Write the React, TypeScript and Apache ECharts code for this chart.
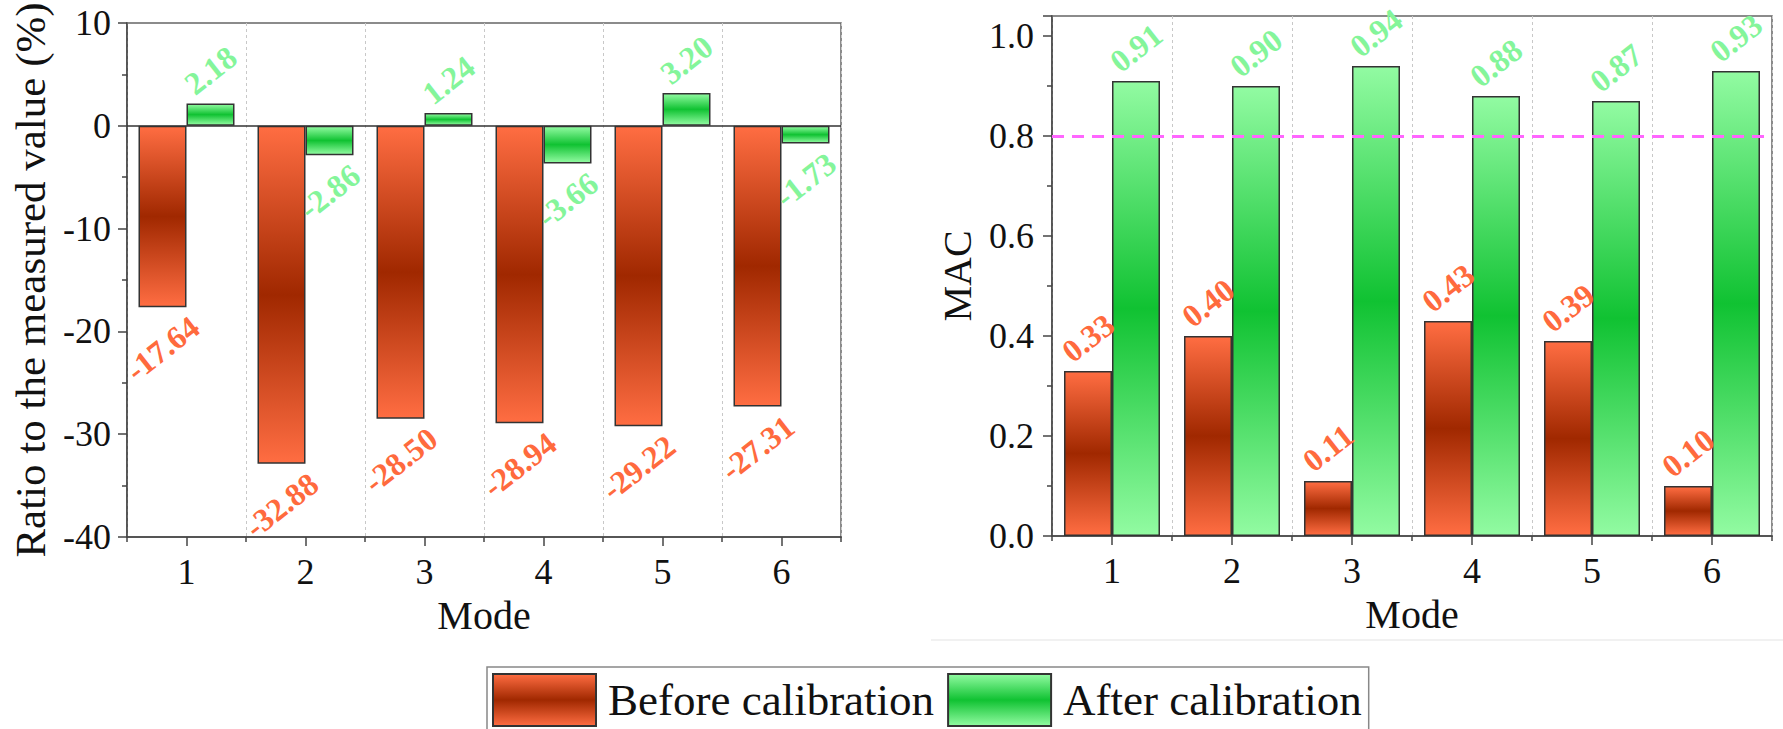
import React, { useEffect, useRef } from "react";
import * as echarts from "echarts";

const categories = ["1", "2", "3", "4", "5", "6"];
const ratioBefore = [-17.64, -32.88, -28.5, -28.94, -29.22, -27.31];
const ratioAfter = [2.18, -2.86, 1.24, -3.66, 3.2, -1.73];
const macBefore = [0.33, 0.4, 0.11, 0.43, 0.39, 0.1];
const macAfter = [0.91, 0.9, 0.94, 0.88, 0.87, 0.93];
const ratioAxis = { min: -40, max: 10, interval: 10 };
const macAxis = { min: 0, max: 1.04, interval: 0.2 };
const macThreshold = 0.8;
const seriesNames = ["Before calibration", "After calibration"];

const FONT = "Liberation Serif";
const LABEL_FS = 32;
const ROT = 38;
const GAP = 7;

const orangeGrad = {
  type: "linear", x: 0, y: 0, x2: 0, y2: 1,
  colorStops: [
    { offset: 0, color: "#ff6d42" },
    { offset: 0.5, color: "#a02800" },
    { offset: 1, color: "#ff6d42" },
  ],
};
const greenGrad = {
  type: "linear", x: 0, y: 0, x2: 0, y2: 1,
  colorStops: [
    { offset: 0, color: "#92fba2" },
    { offset: 0.5, color: "#10c232" },
    { offset: 1, color: "#92fba2" },
  ],
};
const orangeLabel = "#ff6a3d";
const greenLabel = "#84f59a";

function textWidth(t: string) {
  let w = 0;
  for (const c of t) w += c === "." ? 0.25 : c === "-" ? 0.333 : 0.5;
  return w * LABEL_FS;
}

function labelFor(v: number, digits: number, color: string) {
  const text = v.toFixed(digits);
  const th = (ROT * Math.PI) / 180;
  const half = (textWidth(text) * Math.sin(th) + 0.7 * LABEL_FS * Math.cos(th)) / 2;
  return {
    show: true,
    position: v < 0 ? "bottom" : "top",
    distance: GAP + half,
    rotate: ROT,
    align: "center",
    verticalAlign: "middle",
    formatter: text,
    color,
    fontSize: LABEL_FS,
    fontWeight: "bold",
    fontFamily: FONT,
  };
}

const axisLineStyle = { color: "#444", width: 1.5 };

function mainX(gridIndex: number) {
  return {
    type: "category",
    gridIndex,
    data: categories,
    position: "bottom",
    name: "Mode",
    nameLocation: "middle",
    nameGap: 58,
    nameTextStyle: { fontSize: 40, color: "#111", fontFamily: FONT },
    axisLine: { show: true, onZero: false, lineStyle: axisLineStyle },
    axisTick: { show: true, alignWithLabel: true, length: 9, lineStyle: axisLineStyle },
    axisLabel: { fontSize: 36, color: "#111", fontFamily: FONT, margin: 17 },
    splitLine: { show: false },
  };
}
function boundaryX(gridIndex: number) {
  return {
    type: "category",
    gridIndex,
    data: categories,
    position: "bottom",
    axisLine: { show: false, onZero: false },
    axisTick: { show: true, alignWithLabel: false, length: 5, lineStyle: axisLineStyle },
    axisLabel: { show: false },
    splitLine: { show: true, lineStyle: { color: "#c8c8c8", type: [3, 3], width: 1 } },
  };
}

function barSeries(name: string, data: number[], xi: number, yi: number, grad: any, lc: string, digits: number, extra: any = {}) {
  return {
    name,
    type: "bar",
    xAxisIndex: xi,
    yAxisIndex: yi,
    barWidth: 48,
    barGap: "0%",
    itemStyle: { color: grad, borderColor: "#333", borderWidth: 1.5 },
    data: data.map((v) => ({ value: v, label: labelFor(v, digits, lc) })),
    ...extra,
  };
}

export default function App() {
  const ref = useRef<HTMLDivElement>(null);
  useEffect(() => {
    if (!ref.current) return;
    const chart = echarts.init(ref.current, undefined, { renderer: "svg" });
    const option: any = {
      animation: false,
      backgroundColor: "#fff",
      textStyle: { fontFamily: FONT },
      grid: [
        { left: 127, top: 23, width: 714, height: 514, show: true, borderColor: "#666", borderWidth: 1.5 },
        { left: 1052, top: 16, width: 720, height: 520, show: true, borderColor: "#666", borderWidth: 1.5 },
      ],
      xAxis: [mainX(0), boundaryX(0), mainX(1), boundaryX(1)],
      yAxis: [
        {
          type: "value",
          gridIndex: 0,
          min: ratioAxis.min,
          max: ratioAxis.max,
          interval: ratioAxis.interval,
          name: "Ratio to the measured value (%)",
          nameLocation: "middle",
          nameGap: 75,
          nameTextStyle: { fontSize: 43, color: "#111", fontFamily: FONT },
          axisLine: { show: true, onZero: false, lineStyle: axisLineStyle },
          axisTick: { show: true, length: 9, lineStyle: axisLineStyle },
          minorTick: { show: true, splitNumber: 2, length: 5, lineStyle: axisLineStyle },
          axisLabel: { fontSize: 36, color: "#111", fontFamily: FONT, margin: 16 },
          splitLine: { show: false },
        },
        {
          type: "value",
          gridIndex: 1,
          min: macAxis.min,
          max: macAxis.max,
          interval: macAxis.interval,
          name: "MAC",
          nameLocation: "middle",
          nameGap: 75,
          nameTextStyle: { fontSize: 40, color: "#111", fontFamily: FONT },
          axisLine: { show: true, onZero: false, lineStyle: axisLineStyle },
          axisTick: { show: true, length: 9, lineStyle: axisLineStyle },
          minorTick: { show: true, splitNumber: 2, length: 5, lineStyle: axisLineStyle },
          axisLabel: {
            fontSize: 36, color: "#111", fontFamily: FONT, margin: 18,
            showMaxLabel: false,
            formatter: (v: number) => v.toFixed(1),
          },
          splitLine: { show: false },
        },
      ],
      legend: {
        left: 487,
        top: 667,
        orient: "horizontal",
        icon: "rect",
        itemWidth: 103,
        itemHeight: 52,
        itemGap: 13,
        padding: [6, 7, 6, 5],
        borderColor: "#888",
        borderWidth: 1.5,
        data: seriesNames,
        textStyle: { fontSize: 45, color: "#111", fontFamily: FONT, padding: [0, 0, 0, 7] },
      },
      graphic: [
        {
          type: "line",
          shape: { x1: 931, y1: 640, x2: 1783, y2: 640 },
          style: { stroke: "#ececec", lineWidth: 1.5 },
          silent: true,
        },
      ],
      series: [
        barSeries(seriesNames[0], ratioBefore, 0, 0, orangeGrad, orangeLabel, 2, {
          markLine: {
            silent: true,
            symbol: "none",
            label: { show: false },
            lineStyle: { color: "#333", type: "solid", width: 1.5 },
            data: [{ yAxis: 0 }],
          },
        }),
        barSeries(seriesNames[1], ratioAfter, 0, 0, greenGrad, greenLabel, 2),
        barSeries(seriesNames[0], macBefore, 2, 1, orangeGrad, orangeLabel, 2),
        barSeries(seriesNames[1], macAfter, 2, 1, greenGrad, greenLabel, 2, {
          markLine: {
            silent: true,
            symbol: "none",
            label: { show: false },
            lineStyle: { color: "#ff66ff", type: [12, 8], width: 3 },
            data: [{ yAxis: macThreshold }],
          },
        }),
      ],
    };
    chart.setOption(option);
    return () => chart.dispose();
  }, []);
  return (
    <div
      ref={ref}
      style={{ position: "fixed", left: 0, top: 0, width: "1783px", height: "729px" }}
    />
  );
}
